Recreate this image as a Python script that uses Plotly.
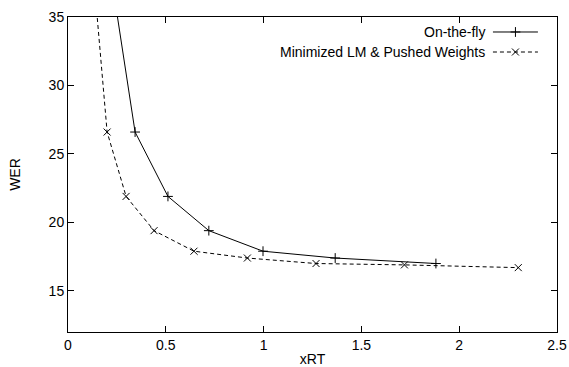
import plotly.graph_objects as go

# Data
otf_x = [0.21, 0.343, 0.511, 0.72, 0.997, 1.366, 1.881]
otf_y = [39.0, 26.6, 21.9, 19.4, 17.9, 17.4, 17.0]
min_x = [0.125, 0.20, 0.297, 0.44, 0.644, 0.917, 1.268, 1.72, 2.302]
min_y = [39.0, 26.6, 21.9, 19.4, 17.9, 17.4, 17.0, 16.9, 16.7]

series_names = ["On-the-fly", "Minimized LM & Pushed Weights"]
x_ticks = [0, 0.5, 1, 1.5, 2, 2.5]
x_ticktext = ["0", "0.5", "1", "1.5", "2", "2.5"]
y_ticks = [15, 20, 25, 30, 35]

FONT = "Liberation Sans, Arial, Helvetica, sans-serif"

fig = go.Figure()
fig.add_trace(go.Scatter(
    x=otf_x, y=otf_y, mode="lines+markers", name=series_names[0],
    line=dict(color="black", width=1),
    marker=dict(symbol="cross-thin-open", size=7, color="black", line=dict(width=1, color="black")),
    showlegend=False, cliponaxis=True))
fig.add_trace(go.Scatter(
    x=min_x, y=min_y, mode="lines+markers", name=series_names[1],
    line=dict(color="black", width=1, dash="4px,3px"),
    marker=dict(symbol="x-thin-open", size=7, color="black", line=dict(width=1, color="black")),
    showlegend=False, cliponaxis=True))

# Custom gnuplot-style legend (sample to the right of text) on an overlay axis
leg_samples_x = [0.869, 0.961]
leg_marker_x = [0.915]
leg_y = [0.9524, 0.8889]
fig.add_trace(go.Scatter(x=leg_samples_x, y=[leg_y[0]] * 2, mode="lines",
                         line=dict(color="black", width=1), xaxis="x2", yaxis="y2",
                         showlegend=False, hoverinfo="skip"))
fig.add_trace(go.Scatter(x=leg_marker_x, y=[leg_y[0]], mode="markers",
                         marker=dict(symbol="cross-thin-open", size=7, color="black",
                                     line=dict(width=1, color="black")),
                         xaxis="x2", yaxis="y2", showlegend=False, hoverinfo="skip"))
fig.add_trace(go.Scatter(x=leg_samples_x, y=[leg_y[1]] * 2, mode="lines",
                         line=dict(color="black", width=1, dash="4px,3px"), xaxis="x2", yaxis="y2",
                         showlegend=False, hoverinfo="skip"))
fig.add_trace(go.Scatter(x=leg_marker_x, y=[leg_y[1]], mode="markers",
                         marker=dict(symbol="x-thin-open", size=7, color="black",
                                     line=dict(width=1, color="black")),
                         xaxis="x2", yaxis="y2", showlegend=False, hoverinfo="skip"))
for name, yy in zip(series_names, leg_y):
    fig.add_annotation(x=0.856, y=yy, xref="x2", yref="y2", text=name, showarrow=False,
                       xanchor="right", yanchor="middle", font=dict(family=FONT, size=14, color="black"))

fig.update_layout(
    width=569, height=367,
    margin=dict(l=68, r=12, t=17, b=35),
    paper_bgcolor="white", plot_bgcolor="white",
    font=dict(family=FONT, size=14, color="black"),
    xaxis=dict(range=[0, 2.5], tickvals=x_ticks, ticktext=x_ticktext, ticks="inside", ticklen=6,
               tickcolor="black", showline=True, linecolor="black", linewidth=1, mirror="ticks",
               showgrid=False, zeroline=False, automargin=False,
               title=dict(text="xRT", standoff=6, font=dict(size=14))),
    yaxis=dict(range=[12, 35], tickvals=y_ticks, ticks="inside", ticklen=6,
               tickcolor="black", showline=True, linecolor="black", linewidth=1, mirror="ticks",
               showgrid=False, zeroline=False, automargin=False,
               title=dict(text="WER", standoff=24, font=dict(size=14))),
    xaxis2=dict(range=[0, 1], overlaying="x", visible=False, fixedrange=True),
    yaxis2=dict(range=[0, 1], overlaying="y", visible=False, fixedrange=True),
)

fig.write_html("out.html")
